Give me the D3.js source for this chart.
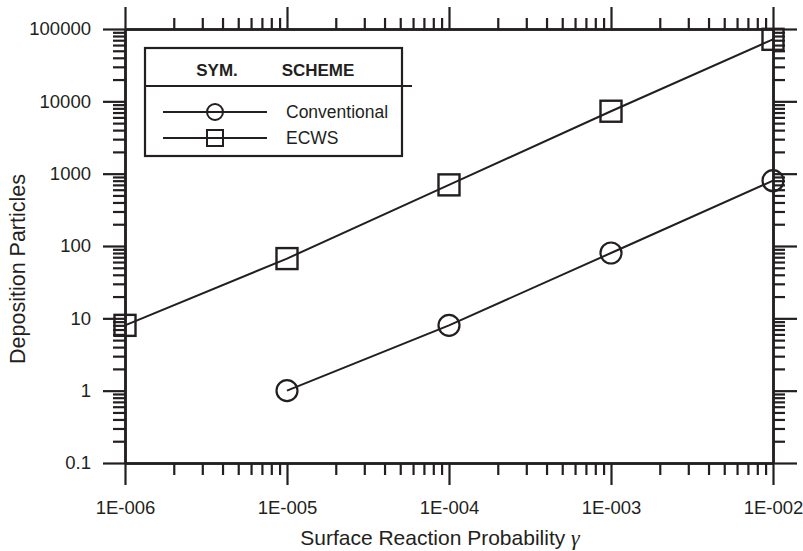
<!DOCTYPE html>
<html>
<head>
<meta charset="utf-8">
<script src="https://cdn.jsdelivr.net/npm/d3@7"></script>
<style>
  body { margin: 0; background: #fff; }
  svg { display: block; font-family: "Liberation Sans", Arial, sans-serif; }
</style>
</head>
<body>
<svg id="chart" width="803" height="551"></svg>
<script>
// Surface reaction probability (x) and number of deposited particles (y)
const gammaConventional = [1e-5, 1e-4, 1e-3, 1e-2];
const depConventional   = [1, 8, 80, 800];
const gammaECWS = [1e-6, 1e-5, 1e-4, 1e-3, 1e-2];
const depECWS   = [8, 67, 700, 7300, 72000];

const xMajorTicks = [1e-6, 1e-5, 1e-4, 1e-3, 1e-2];
const xTickLabels = ["1E-006", "1E-005", "1E-004", "1E-003", "1E-002"];
const yMajorTicks = [0.1, 1, 10, 100, 1000, 10000, 100000];
const yTickLabels = ["0.1", "1", "10", "100", "1000", "10000", "100000"];

const ink = "#231f20";
const svg = d3.select("#chart");

const x = d3.scaleLog().domain([1e-6, 1e-2]).range([125, 773]);
const y = d3.scaleLog().domain([0.1, 100000]).range([463, 29]);

// minor ticks at 2..9 within each decade
function minors(majors) {
  const out = [];
  for (let i = 0; i < majors.length - 1; i++)
    for (let k = 2; k <= 9; k++) out.push(majors[i] * k);
  return out;
}
const xMinor = minors(xMajorTicks);
const yMinor = minors(yMajorTicks);

const axisStroke = 2.5;
function styleAxis(g) {
  g.selectAll("path.domain").attr("stroke", ink).attr("stroke-width", axisStroke);
  g.selectAll(".tick line").attr("stroke", ink).attr("stroke-width", 2.2);
  g.selectAll("text").attr("fill", ink).style("font-size", "18.5px")
    .style("font-family", "'Liberation Sans', Arial, sans-serif");
}

// bottom axis
const gB = svg.append("g").attr("transform", `translate(0,${y.range()[0]})`);
gB.append("g").call(d3.axisBottom(x).tickValues(xMinor).tickSize(12).tickSizeOuter(0).tickFormat(""));
gB.append("g").call(d3.axisBottom(x).tickValues(xMajorTicks).tickSize(22).tickSizeOuter(0)
  .tickPadding(16).tickFormat((d, i) => xTickLabels[i]));
styleAxis(gB);

// top axis
const gT = svg.append("g").attr("transform", `translate(0,${y.range()[1]})`);
gT.append("g").call(d3.axisTop(x).tickValues(xMinor).tickSize(11).tickSizeOuter(0).tickFormat(""));
gT.append("g").call(d3.axisTop(x).tickValues(xMajorTicks).tickSize(22).tickSizeOuter(0).tickFormat(""));
styleAxis(gT);

// left axis
const gL = svg.append("g").attr("transform", `translate(${x.range()[0]},0)`);
gL.append("g").call(d3.axisLeft(y).tickValues(yMinor).tickSize(12).tickSizeOuter(0).tickFormat(""));
gL.append("g").call(d3.axisLeft(y).tickValues(yMajorTicks).tickSize(22).tickSizeOuter(0)
  .tickPadding(12).tickFormat((d, i) => yTickLabels[i]));
styleAxis(gL);

// right axis
const gR = svg.append("g").attr("transform", `translate(${x.range()[1]},0)`);
gR.append("g").call(d3.axisRight(y).tickValues(yMinor).tickSize(12).tickSizeOuter(0).tickFormat(""));
gR.append("g").call(d3.axisRight(y).tickValues(yMajorTicks).tickSize(24).tickSizeOuter(0).tickFormat(""));
styleAxis(gR);

// axis titles
svg.append("text")
  .attr("x", 440).attr("y", 545)
  .attr("text-anchor", "middle")
  .attr("fill", ink).style("font-size", "21px")
  .text("Surface Reaction Probability ")
  .append("tspan")
  .style("font-family", "'Liberation Serif', 'Times New Roman', serif")
  .style("font-style", "italic").style("font-size", "22px")
  .text("γ");

svg.append("text")
  .attr("transform", "translate(25,269) rotate(-90)")
  .attr("text-anchor", "middle")
  .attr("fill", ink).style("font-size", "21.5px")
  .text("Deposition Particles");

// series
const line = d3.line().x(d => x(d[0])).y(d => y(d[1]));
const conv = gammaConventional.map((g, i) => [g, depConventional[i]]);
const ecws = gammaECWS.map((g, i) => [g, depECWS[i]]);

const plot = svg.append("g");
plot.append("path").datum(conv).attr("d", line)
  .attr("fill", "none").attr("stroke", ink).attr("stroke-width", 2);
plot.append("path").datum(ecws).attr("d", line)
  .attr("fill", "none").attr("stroke", ink).attr("stroke-width", 2);

plot.selectAll("circle.conv").data(conv).join("circle")
  .attr("class", "conv")
  .attr("cx", d => x(d[0])).attr("cy", d => y(d[1])).attr("r", 10.5)
  .attr("fill", "none").attr("stroke", ink).attr("stroke-width", 2.2);

const sq = 21;
plot.selectAll("rect.ecws").data(ecws).join("rect")
  .attr("class", "ecws")
  .attr("x", d => x(d[0]) - sq / 2).attr("y", d => y(d[1]) - sq / 2)
  .attr("width", sq).attr("height", sq)
  .attr("fill", "none").attr("stroke", ink).attr("stroke-width", 2.4);

// legend
const lg = svg.append("g");
lg.append("rect").attr("x", 145).attr("y", 48).attr("width", 257).attr("height", 108)
  .attr("fill", "#fff").attr("stroke", ink).attr("stroke-width", 2.2);
lg.append("line").attr("x1", 145).attr("x2", 412).attr("y1", 86).attr("y2", 86)
  .attr("stroke", ink).attr("stroke-width", 2);
lg.append("text").attr("x", 217).attr("y", 76).attr("text-anchor", "middle")
  .attr("fill", ink).style("font-size", "17px").style("font-weight", "bold").text("SYM.");
lg.append("text").attr("x", 318).attr("y", 76).attr("text-anchor", "middle")
  .attr("fill", ink).style("font-size", "17px").style("font-weight", "bold").text("SCHEME");

const legendRows = [
  { name: "Conventional", shape: "circle", yy: 112 },
  { name: "ECWS", shape: "square", yy: 138 }
];
legendRows.forEach(r => {
  lg.append("line").attr("x1", 163).attr("x2", 267).attr("y1", r.yy).attr("y2", r.yy)
    .attr("stroke", ink).attr("stroke-width", 2);
  if (r.shape === "circle") {
    lg.append("circle").attr("cx", 215).attr("cy", r.yy).attr("r", 8)
      .attr("fill", "none").attr("stroke", ink).attr("stroke-width", 2);
  } else {
    lg.append("rect").attr("x", 215 - 8).attr("y", r.yy - 8).attr("width", 16).attr("height", 16)
      .attr("fill", "none").attr("stroke", ink).attr("stroke-width", 2);
  }
  lg.append("text").attr("x", 286).attr("y", r.yy + 6)
    .attr("fill", ink).style("font-size", "17.5px").text(r.name);
});
</script>
</body>
</html>
